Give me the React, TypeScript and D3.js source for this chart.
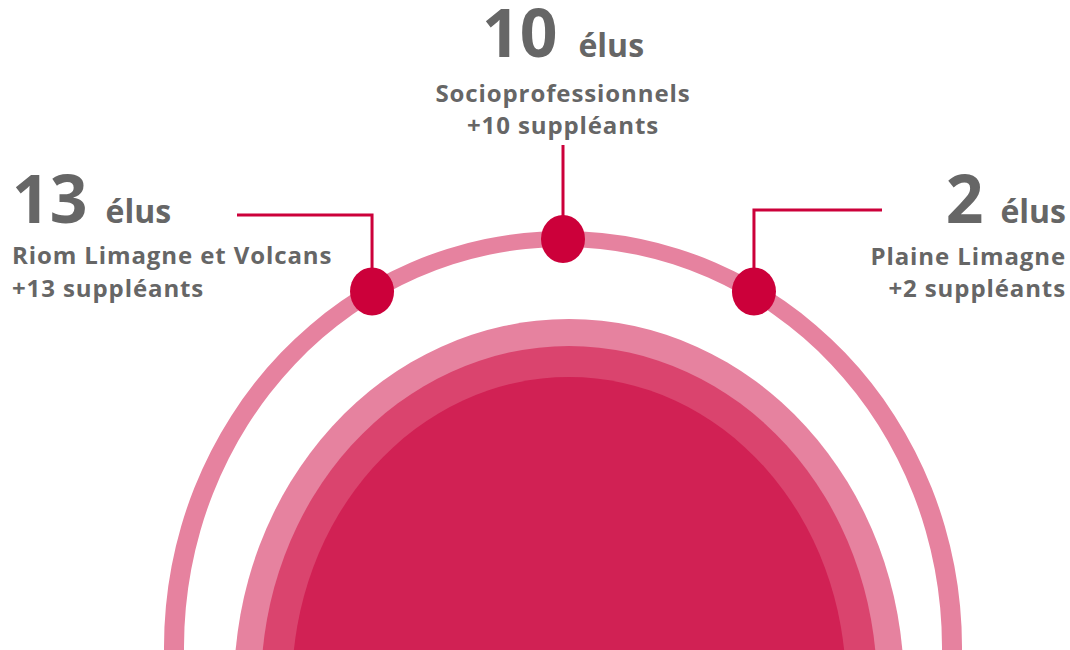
import * as React from 'react';
import * as d3 from 'd3';

// one entry per college: name, titulaires, suppléants
const groups = ['Riom Limagne et Volcans', 'Socioprofessionnels', 'Plaine Limagne'];
const elus = [13, 10, 2];
const suppleants = [13, 10, 2];
// where each dot sits on the outer ring (degrees from the top)
const dotAngles = [-29.4, 0, 29.4];

const W = 1070;
const H = 650;
const FONT = '"Open Sans", "DejaVu Sans", sans-serif';
const GREY = '#666666';
const RED = '#cc003a';

const ellipsePath = (cx, cy, rx, ry) =>
	`M${cx - rx},${cy}a${rx},${ry} 0 1,0 ${rx * 2},0a${rx},${ry} 0 1,0 ${-rx * 2},0Z`;

const draw = (svgEl) => {
	const svg = d3.select(svgEl);
	svg.html('');

	// outer ring (two ellipses, even-odd)
	const ring = {cx: 563, cy: 647};
	svg.append('path')
		.attr('d', ellipsePath(ring.cx, ring.cy, 399, 416) + ellipsePath(ring.cx, ring.cy, 379, 400))
		.attr('fill', '#e6829f')
		.attr('fill-rule', 'evenodd');

	// inner dome, three stacked ellipses
	const domes = [
		{rx: 335, ry: 367, fill: '#e6829f'},
		{rx: 308, ry: 340, fill: '#da446e'},
		{rx: 277, ry: 309, fill: '#d12154'},
	];
	svg.selectAll('.dome')
		.data(domes)
		.enter().append('ellipse')
		.attr('class', 'dome')
		.attr('cx', 569)
		.attr('cy', 686)
		.attr('rx', d => d.rx)
		.attr('ry', d => d.ry)
		.attr('fill', d => d.fill);

	// dots on the ring centre line
	const a = 389, b = 408;
	const dots = dotAngles.map(t => {
		const r = t * Math.PI / 180;
		return {x: ring.cx + a * Math.sin(r), y: ring.cy - b * Math.cos(r)};
	});

	// callout lines: up from the dot, then out towards the label
	const elbowY = [215, 145, 210];
	const endX = [237, null, 882];
	const line = d3.line();
	dots.forEach((p, i) => {
		const pts: [number, number][] = [[p.x, p.y], [p.x, elbowY[i]]];
		if (endX[i] != null) pts.push([endX[i], elbowY[i]]);
		svg.append('path')
			.attr('d', line(pts))
			.attr('fill', 'none')
			.attr('stroke', RED)
			.attr('stroke-width', 3);
	});

	svg.selectAll('.dot')
		.data(dots)
		.enter().append('ellipse')
		.attr('class', 'dot')
		.attr('cx', d => d.x)
		.attr('cy', d => d.y)
		.attr('rx', 22)
		.attr('ry', 24)
		.attr('fill', RED);

	// labels
	const labelX = [12, 563, 1066];
	const anchor = ['start', 'middle', 'end'];
	const lineY = [[223, 264, 297], [57, 102, 134], [223, 265, 297]];
	const gap = [18, 21, 17];

	groups.forEach((name, i) => {
		const g = svg.append('g')
			.attr('font-family', FONT)
			.attr('font-weight', 700)
			.attr('fill', GREY)
			.attr('text-anchor', anchor[i]);

		const big = g.append('text')
			.attr('x', labelX[i])
			.attr('y', lineY[i][0]);
		big.append('tspan')
			.attr('font-size', 66)
			.text(elus[i]);
		big.append('tspan')
			.attr('font-size', 32)
			.attr('dx', gap[i])
			.text('élus');

		g.append('text')
			.attr('x', labelX[i])
			.attr('y', lineY[i][1])
			.attr('font-size', 24)
			.attr('letter-spacing', 0.9)
			.text(name);

		g.append('text')
			.attr('x', labelX[i])
			.attr('y', lineY[i][2])
			.attr('font-size', 24)
			.attr('letter-spacing', 0.9)
			.text('+' + suppleants[i] + ' suppléants');
	});
};

class App extends React.Component<any, any> {
	svgRef = React.createRef<SVGSVGElement>();

	public componentDidMount() {
		document.body.style.margin = '0';
		draw(this.svgRef.current);
	}

	public render() {
		return (
			<svg
				ref={this.svgRef}
				width={W}
				height={H}
				style={{display: 'block', background: '#ffffff'}}
			/>
		);
	}
}

export default App;
